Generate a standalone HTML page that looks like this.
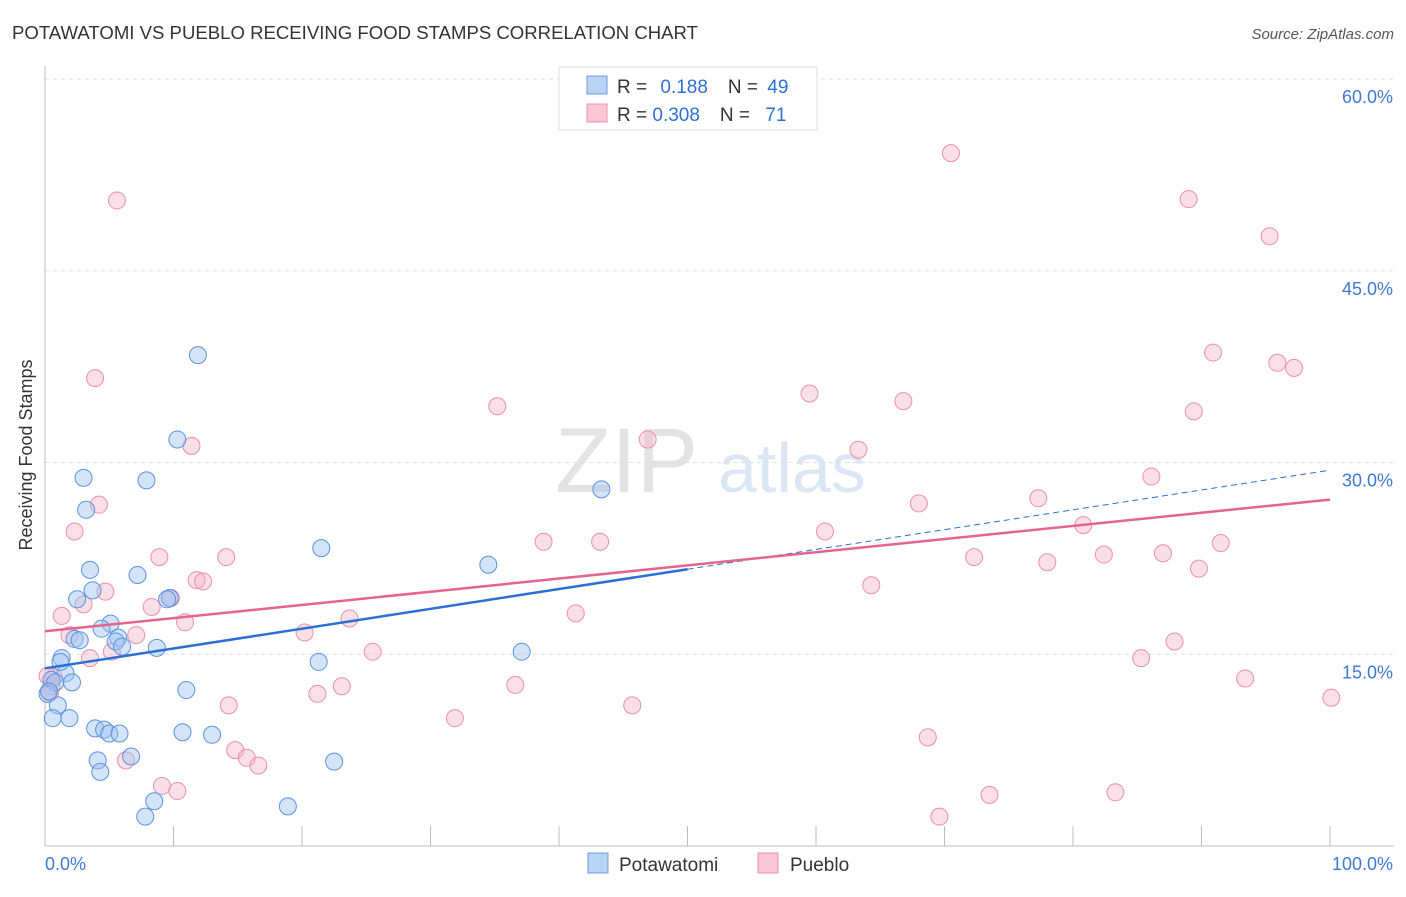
<!DOCTYPE html>
<html><head><meta charset="utf-8"><style>
body{margin:0;background:#fff;font-family:"Liberation Sans",sans-serif;}
svg text{font-family:"Liberation Sans",sans-serif;}
</style></head><body>
<svg id="c" width="1406" height="892" xmlns="http://www.w3.org/2000/svg">
<text x="12" y="39" font-size="18" fill="#333" textLength="686" lengthAdjust="spacingAndGlyphs">POTAWATOMI VS PUEBLO RECEIVING FOOD STAMPS CORRELATION CHART</text>
<text x="1394" y="39" font-size="15" fill="#555" font-style="italic" text-anchor="end">Source: ZipAtlas.com</text>
<text x="32" y="455" font-size="18" fill="#333" text-anchor="middle" transform="rotate(-90 32 455)">Receiving Food Stamps</text>
<text x="555" y="492" font-size="92" fill="#e3e3e3" font-family="Liberation Serif">ZIP</text>
<text x="718" y="492" font-size="70" fill="#dbe6f5">atlas</text>
<g id="grid"></g><g id="pts"></g><g id="lines"></g>
<g>
<rect x="559" y="67" width="258" height="63" fill="#fff" stroke="#ddd"/>
<rect x="587" y="76" width="20" height="18" fill="#b9d3f5" stroke="#6a9de0"/>
<rect x="587" y="104" width="20" height="18" fill="#f9c6d5" stroke="#ec8fac"/>
<text x="617" y="93" font-size="19" fill="#333">R = <tspan fill="#2f6fd6" dx="8">0.188</tspan><tspan dx="20" fill="#333">N = </tspan><tspan fill="#2f6fd6" dx="4">49</tspan></text>
<text x="617" y="121" font-size="19" fill="#333">R = <tspan fill="#2f6fd6">0.308</tspan><tspan dx="20" fill="#333">N = </tspan><tspan fill="#2f6fd6" dx="10">71</tspan></text>
</g>
<g>
<rect x="588" y="853" width="20" height="20" fill="#b9d3f5" stroke="#6a9de0"/>
<text x="619" y="871" font-size="19" fill="#333">Potawatomi</text>
<rect x="758" y="853" width="20" height="20" fill="#f9c6d5" stroke="#ec8fac"/>
<text x="790" y="871" font-size="19" fill="#333">Pueblo</text>
</g>
</svg>
<script>
const yTicks=[15,30,45,60];
const xTickLabels=["0.0%","100.0%"];
const blueX=[11.9,10.3,3.0,7.9,3.2,43.3,21.5,34.5,3.5,7.2,3.7,2.5,9.7,9.5,5.1,4.4,5.7,5.5,6.0,2.3,2.7,8.7,1.6,1.3,1.2,37.1,21.3,0.5,0.8,2.1,11.0,0.2,1.0,0.6,1.9,3.9,4.6,5.0,5.8,10.7,13.0,6.7,4.1,4.3,22.5,8.5,7.8,18.9,0.3];
const blueY=[38.4,31.8,28.8,28.6,26.3,27.9,23.3,22.0,21.6,21.2,20.0,19.3,19.4,19.3,17.4,17.0,16.3,16.0,15.6,16.2,16.1,15.5,13.5,14.7,14.4,15.2,14.4,13.0,12.8,12.8,12.2,11.9,11.0,10.0,10.0,9.2,9.1,8.8,8.8,8.9,8.7,7.0,6.7,5.8,6.6,3.5,2.3,3.1,12.1];
const pinkX=[5.6,70.5,89.0,95.3,3.9,90.9,95.9,97.2,59.5,66.8,35.2,89.4,11.4,46.9,63.3,86.1,4.2,77.3,68.0,2.3,60.7,80.8,38.8,43.2,91.5,8.9,14.1,72.3,82.4,87.0,78.0,89.8,64.3,11.8,12.3,4.7,3.0,8.3,9.8,41.3,1.3,10.9,23.7,1.9,7.1,20.2,5.2,3.5,25.5,87.9,85.3,0.7,0.5,93.4,23.1,36.6,21.2,100.1,14.3,45.7,31.9,68.7,14.8,15.7,16.6,6.3,9.1,10.3,73.5,83.3,69.6,0.2,0.4];
const pinkY=[50.5,54.2,50.6,47.7,36.6,38.6,37.8,37.4,35.4,34.8,34.4,34.0,31.3,31.8,31.0,28.9,26.7,27.2,26.8,24.6,24.6,25.1,23.8,23.8,23.7,22.6,22.6,22.6,22.8,22.9,22.2,21.7,20.4,20.8,20.7,19.9,18.9,18.7,19.4,18.2,18.0,17.5,17.8,16.5,16.5,16.7,15.2,14.7,15.2,16.0,14.7,13.2,12.5,13.1,12.5,12.6,11.9,11.6,11.0,11.0,10.0,8.5,7.5,6.9,6.3,6.7,4.7,4.3,4.0,4.2,2.3,13.3,12.0];
const blueTrend=[13.9,29.4];
const pinkTrend=[16.8,27.1];
const X0=45,X1=1330,Y0=846,Y60=79;
const xs=v=>X0+(X1-X0)*v/100;
const ys=v=>Y0-(Y0-Y60)*v/60;
const NS="http://www.w3.org/2000/svg";
function mk(t,a,p){const e=document.createElementNS(NS,t);for(const k in a)e.setAttribute(k,a[k]);p.appendChild(e);return e;}
const g=document.getElementById('grid');
yTicks.forEach(t=>{
 const l=mk('line',{x1:X0,x2:1394,y1:ys(t),y2:ys(t),stroke:'#ddd','stroke-dasharray':'4,4'},g);
 
 
 const tx=mk('text',{x:1393,y:ys(t)+24,'font-size':18,fill:'#3d7ad8','text-anchor':'end'},g);
 tx.textContent=t.toFixed(1)+'%';
 
 
});
const ax=mk('line',{x1:X0,x2:X0,y1:66,y2:Y0,stroke:'#bbb'},g);


const bx=mk('line',{x1:X0,x2:1394,y1:Y0,y2:Y0,stroke:'#bbb'},g);


for(let i=1;i<=10;i++){const x=X0+(X1-X0)*i/10;const tk=mk('line',{x1:x,x2:x,y1:826,y2:Y0,stroke:'#bbb'},g);
 
 }
const xl0=mk('text',{x:45,y:870,'font-size':18,fill:'#3d7ad8'},g);xl0.textContent=xTickLabels[0];


const xl1=mk('text',{x:1393,y:870,'font-size':18,fill:'#3d7ad8','text-anchor':'end'},g);xl1.textContent=xTickLabels[1];


const P=document.getElementById('pts');
pinkX.forEach((v,i)=>{const c=mk('circle',{cx:xs(v),cy:ys(pinkY[i]),r:8.5,fill:'rgba(246,175,197,0.4)',stroke:'#ec8fac','stroke-width':1},P);
 
 });
blueX.forEach((v,i)=>{const c=mk('circle',{cx:xs(v),cy:ys(blueY[i]),r:8.5,fill:'rgba(160,196,240,0.45)',stroke:'#5b93de','stroke-width':1},P);
 
 });
const L=document.getElementById('lines');
const bAt=x=>blueTrend[0]+(blueTrend[1]-blueTrend[0])*x/100;
const b1=mk('line',{x1:xs(0),y1:ys(bAt(0)),x2:xs(50),y2:ys(bAt(50)),stroke:'#2a6fd6','stroke-width':2.5},L);


const b2=mk('line',{x1:xs(50),y1:ys(bAt(50)),x2:xs(100),y2:ys(bAt(100)),stroke:'#2a6fd6','stroke-width':1,'stroke-dasharray':'6,4'},L);


const p1=mk('line',{x1:xs(0),y1:ys(pinkTrend[0]),x2:xs(100),y2:ys(pinkTrend[1]),stroke:'#e5648e','stroke-width':2.5},L);


</script>
</body></html>
